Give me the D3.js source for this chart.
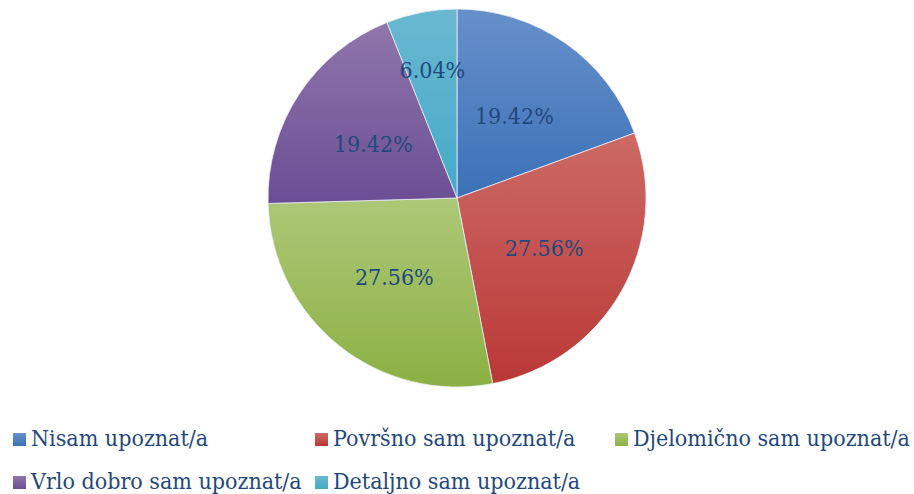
<!DOCTYPE html>
<html>
<head>
<meta charset="utf-8">
<script src="https://cdn.jsdelivr.net/npm/d3@7"></script>
<style>
  body { margin: 0; background: #fff; }
  svg { display: block; }
</style>
</head>
<body>
<div id="pieChart"></div>
<script>
var width = 914;
var height = 494;

// data
var categories = ["Nisam upoznat/a", "Površno sam upoznat/a", "Djelomično sam upoznat/a",
                  "Vrlo dobro sam upoznat/a", "Detaljno sam upoznat/a"];
var values = [19.42, 27.56, 27.56, 19.42, 6.04];
var labels = ["19.42%", "27.56%", "27.56%", "19.42%", "6.04%"];

// excel-ish gradient pairs (top, bottom)
var colorsTop = ["#6790ca", "#cc6a66", "#adc878", "#8f76aa", "#6ab8d0"];
var colorsBottom = ["#3b71b7", "#ba3836", "#8cb043", "#6b4d95", "#43aac8"];

var cx = 457, cy = 198, radius = 189;
var textColor = "#1f497d";
var font = "'DejaVu Serif Condensed', 'DejaVu Serif', serif";

var svg = d3.select("div#pieChart").append("svg")
    .attr("width", width)
    .attr("height", height);

var defs = svg.append("defs");
categories.forEach(function(c, i) {
    var g = defs.append("linearGradient")
        .attr("id", "grad" + i)
        .attr("x1", 0).attr("y1", 0).attr("x2", 0).attr("y2", 1);
    g.append("stop").attr("offset", "0%").attr("stop-color", colorsTop[i]);
    g.append("stop").attr("offset", "100%").attr("stop-color", colorsBottom[i]);
});

var pie = d3.pie().sort(null).value(function(d) { return d; });
var arcs = pie(values);

var arc = d3.arc().innerRadius(0).outerRadius(radius);

var chart = svg.append("g")
    .attr("transform", "translate(" + [cx, cy] + ")");

chart.selectAll("path")
    .data(arcs)
    .enter().append("path")
    .attr("d", arc)
    .attr("fill", function(d, i) { return "url(#grad" + i + ")"; })
    .attr("stroke", "#e8eef6")
    .attr("stroke-width", 0.8);

// data labels, small slice pushed outwards like excel does
chart.selectAll("text.lbl")
    .data(arcs)
    .enter().append("text")
    .attr("class", "lbl")
    .attr("transform", function(d) {
        var r = d.value < 10 ? radius * 0.69 : radius * 0.53;
        var c = d3.arc().innerRadius(r).outerRadius(r).centroid(d);
        return "translate(" + c + ")";
    })
    .attr("text-anchor", "middle")
    .attr("dy", "0.37em")
    .attr("font-family", font)
    .attr("font-size", 23)
    .attr("fill", textColor)
    .text(function(d, i) { return labels[i]; });

// legend
var legendX = [13, 315, 615];
var legendY = [446, 489];
var legend = svg.selectAll("g.leg")
    .data(categories)
    .enter().append("g")
    .attr("class", "leg")
    .attr("transform", function(d, i) {
        return "translate(" + [legendX[i % 3], legendY[Math.floor(i / 3)]] + ")";
    });

legend.append("rect")
    .attr("x", 0)
    .attr("y", -13)
    .attr("width", 13)
    .attr("height", 13)
    .attr("fill", function(d, i) { return "url(#grad" + i + ")"; });

legend.append("text")
    .attr("x", 18)
    .attr("y", 0)
    .attr("font-family", font)
    .attr("font-size", 23)
    .attr("fill", textColor)
    .text(function(d) { return d; });
</script>
</body>
</html>
